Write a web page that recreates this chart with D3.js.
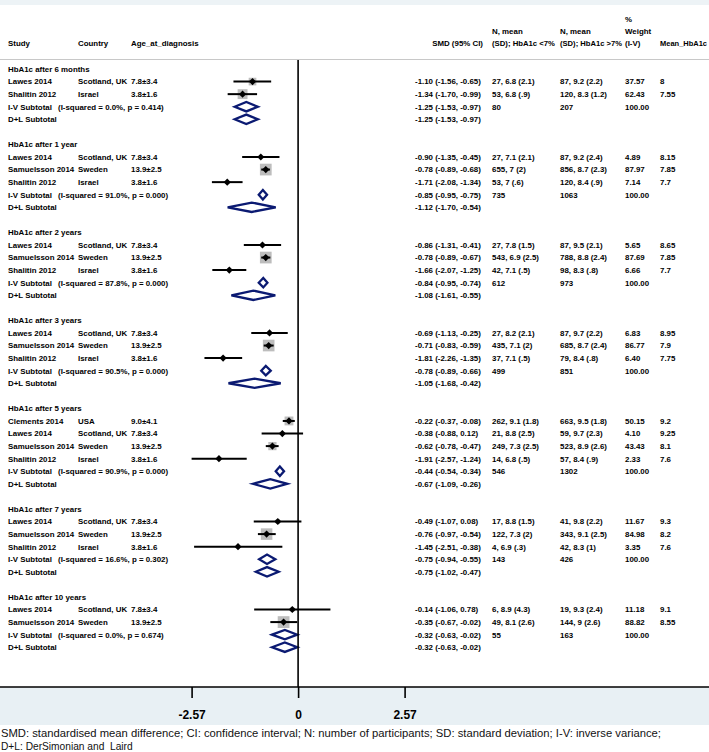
<!DOCTYPE html>
<html><head><meta charset="utf-8">
<script src="https://cdn.jsdelivr.net/npm/d3@7"></script>
<style>body{margin:0;background:#fff}svg{display:block}text{font-family:"Liberation Sans",Arial,sans-serif}</style>
</head><body>
<svg id="c" width="709" height="752"></svg>
<script>
const groupNames = ["HbA1c after 6 months","HbA1c after 1 year","HbA1c after 2 years","HbA1c after 3 years","HbA1c after 5 years","HbA1c after 7 years","HbA1c after 10 years"];
const studyGroup = [0,0, 1,1,1, 2,2,2, 3,3,3, 4,4,4,4, 5,5,5, 6,6];
const studyNames = ["Lawes 2014","Shalitin 2012","Lawes 2014","Samuelsson 2014","Shalitin 2012","Lawes 2014","Samuelsson 2014","Shalitin 2012","Lawes 2014","Samuelsson 2014","Shalitin 2012","Clements 2014","Lawes 2014","Samuelsson 2014","Shalitin 2012","Lawes 2014","Samuelsson 2014","Shalitin 2012","Lawes 2014","Samuelsson 2014"];
const countries = ["Scotland, UK","Israel","Scotland, UK","Sweden","Israel","Scotland, UK","Sweden","Israel","Scotland, UK","Sweden","Israel","USA","Scotland, UK","Sweden","Israel","Scotland, UK","Sweden","Israel","Scotland, UK","Sweden"];
const ages = ["7.8±3.4","3.8±1.6","7.8±3.4","13.9±2.5","3.8±1.6","7.8±3.4","13.9±2.5","3.8±1.6","7.8±3.4","13.9±2.5","3.8±1.6","9.0±4.1","7.8±3.4","13.9±2.5","3.8±1.6","7.8±3.4","13.9±2.5","3.8±1.6","7.8±3.4","13.9±2.5"];
const smd = [-1.10,-1.34,-0.90,-0.78,-1.71,-0.86,-0.78,-1.66,-0.69,-0.71,-1.81,-0.22,-0.38,-0.62,-1.91,-0.49,-0.76,-1.45,-0.14,-0.35];
const ciLow = [-1.56,-1.70,-1.35,-0.89,-2.08,-1.31,-0.89,-2.07,-1.13,-0.83,-2.26,-0.37,-0.88,-0.78,-2.57,-1.07,-0.97,-2.51,-1.06,-0.67];
const ciHigh = [-0.65,-0.99,-0.45,-0.68,-1.34,-0.41,-0.67,-1.25,-0.25,-0.59,-1.35,-0.08,0.12,-0.47,-1.24,0.08,-0.54,-0.38,0.78,-0.02];
const nLow = ["27, 6.8 (2.1)","53, 6.8 (.9)","27, 7.1 (2.1)","655, 7 (2)","53, 7 (.6)","27, 7.8 (1.5)","543, 6.9 (2.5)","42, 7.1 (.5)","27, 8.2 (2.1)","435, 7.1 (2)","37, 7.1 (.5)","262, 9.1 (1.8)","21, 8.8 (2.5)","249, 7.3 (2.5)","14, 6.8 (.5)","17, 8.8 (1.5)","122, 7.3 (2)","4, 6.9 (.3)","6, 8.9 (4.3)","49, 8.1 (2.6)"];
const nHigh = ["87, 9.2 (2.2)","120, 8.3 (1.2)","87, 9.2 (2.4)","856, 8.7 (2.3)","120, 8.4 (.9)","87, 9.5 (2.1)","788, 8.8 (2.4)","98, 8.3 (.8)","87, 9.7 (2.2)","685, 8.7 (2.4)","79, 8.4 (.8)","663, 9.5 (1.8)","59, 9.7 (2.3)","523, 8.9 (2.6)","57, 8.4 (.9)","41, 9.8 (2.2)","343, 9.1 (2.5)","42, 8.3 (1)","19, 9.3 (2.4)","144, 9 (2.6)"];
const weights = [37.57,62.43,4.89,87.97,7.14,5.65,87.69,6.66,6.83,86.77,6.40,50.15,4.10,43.43,2.33,11.67,84.98,3.35,11.18,88.82];
const meanHbA1c = ["8","7.55","8.15","7.85","7.7","8.65","7.85","7.7","8.95","7.9","7.75","9.2","9.25","8.1","7.6","9.3","8.2","7.6","9.1","8.55"];
const ivEst = [-1.25,-0.85,-0.84,-0.78,-0.44,-0.75,-0.32];
const ivLow = [-1.53,-0.95,-0.95,-0.89,-0.54,-0.94,-0.63];
const ivHigh = [-0.97,-0.75,-0.74,-0.66,-0.34,-0.55,-0.02];
const iSquared = ["0.0%","91.0%","87.8%","90.5%","90.9%","16.6%","0.0%"];
const pValues = ["0.414","0.000","0.000","0.000","0.000","0.302","0.674"];
const nLowTotal = ["80","735","612","499","546","143","55"];
const nHighTotal = ["207","1063","973","851","1302","426","163"];
const dlEst = [-1.25,-1.12,-1.08,-1.05,-0.67,-0.75,-0.32];
const dlLow = [-1.53,-1.70,-1.61,-1.68,-1.09,-1.02,-0.63];
const dlHigh = [-0.97,-0.54,-0.55,-0.42,-0.26,-0.47,-0.02];
const tickValues = [-2.57, 0, 2.57];
const tickLabels = ["-2.57","0","2.57"];
const headerLeft = ["Study","Country","Age_at_diagnosis"];

const W = 709, H = 752;
const svg = d3.select("#c");
const x = d3.scaleLinear().domain([-2.57, 2.57]).range([191.6, 404.6]);
const row0 = 69, step = 12.57;
const y = i => row0 + i * step;
const fs = 7.9;
const navy = "#0b1a72";
const f2 = d3.format(".2f");
const fmtCI = (e,l,h) => `${f2(e)} (${f2(l)}, ${f2(h)})`.replace(/−/g,"-");

// background bands
svg.append("rect").attr("x",0).attr("y",0).attr("width",W).attr("height",5).attr("fill","#edf3f6");
svg.append("rect").attr("x",0).attr("y",687).attr("width",W).attr("height",38).attr("fill","#e8f0f4");
svg.append("line").attr("x1",0).attr("x2",W).attr("y1",59.5).attr("y2",59.5).attr("stroke","#c8c8c8").attr("stroke-width",1);

// build rows
const rows = [];
let r = 0;
groupNames.forEach((g, gi) => {
  rows.push({type:"head", gi, r: r++});
  studyGroup.forEach((sg, si) => { if (sg === gi) rows.push({type:"study", si, r: r++}); });
  rows.push({type:"iv", gi, r: r++});
  rows.push({type:"dl", gi, r: r++});
  r++;
});

const txt = (xx, yy, s, anchor) => svg.append("text").attr("x",xx).attr("y",yy+2.9).attr("font-size",fs).attr("font-weight","bold").attr("fill","#000").attr("text-anchor",anchor||"start").text(s);

// headers
txt(8, 43, headerLeft[0]); txt(78, 43, headerLeft[1]); txt(131, 43, headerLeft[2]);
txt(483, 43, "SMD (95% CI)", "end");
txt(492, 31, "N, mean"); txt(492, 43, "(SD); HbA1c <7%").attr("textLength",63).attr("lengthAdjust","spacingAndGlyphs");
txt(560, 31, "N, mean"); txt(560, 43, "(SD); HbA1c >7%").attr("textLength",62).attr("lengthAdjust","spacingAndGlyphs");
txt(625, 19, "%"); txt(625, 31, "Weight"); txt(625, 43, "(I-V)");
txt(660, 43, "Mean_HbA1c").attr("textLength",47).attr("lengthAdjust","spacingAndGlyphs");

const colSMD = 415, colN1 = 492, colN2 = 560, colW = 625, colM = 660;
const plot = svg.append("g");

rows.forEach(row => {
  const yy = y(row.r);
  if (row.type === "head") {
    txt(8, yy, groupNames[row.gi]);
  } else if (row.type === "study") {
    const i = row.si;
    txt(8, yy, studyNames[i]); txt(78, yy, countries[i]); txt(131, yy, ages[i]);
    txt(colSMD, yy, fmtCI(smd[i], ciLow[i], ciHigh[i]));
    txt(colN1, yy, nLow[i]); txt(colN2, yy, nHigh[i]);
    txt(colW, yy, f2(weights[i])); txt(colM, yy, meanHbA1c[i]);
    const side = 1.25 * Math.sqrt(weights[i]);
    plot.append("rect").attr("x", x(smd[i]) - side/2).attr("y", yy - side/2).attr("width", side).attr("height", side).attr("fill","#bdbdbd");
    plot.append("line").attr("x1", x(ciLow[i])).attr("x2", x(ciHigh[i])).attr("y1", yy).attr("y2", yy).attr("stroke","#000").attr("stroke-width",2);
    const cx = x(smd[i]), d = 3.6;
    plot.append("path").attr("d", `M${cx-d},${yy}L${cx},${yy-d}L${cx+d},${yy}L${cx},${yy+d}Z`).attr("fill","#000");
  } else {
    const gi = row.gi;
    const isIV = row.type === "iv";
    if (isIV) {
      txt(8, yy, "I-V Subtotal"); txt(58, yy, `(I-squared = ${iSquared[gi]}, p = ${pValues[gi]})`);
      txt(colSMD, yy, fmtCI(ivEst[gi], ivLow[gi], ivHigh[gi]));
      txt(colN1, yy, nLowTotal[gi]); txt(colN2, yy, nHighTotal[gi]); txt(colW, yy, "100.00");
    } else {
      txt(8, yy, "D+L Subtotal");
      txt(colSMD, yy, fmtCI(dlEst[gi], dlLow[gi], dlHigh[gi]));
    }
    const e = isIV ? ivEst[gi] : dlEst[gi], l = isIV ? ivLow[gi] : dlLow[gi], h = isIV ? ivHigh[gi] : dlHigh[gi];
    const hh = 4.7;
    plot.append("path").attr("d", `M${x(l)},${yy}L${x(e)},${yy-hh}L${x(h)},${yy}L${x(e)},${yy+hh}Z`)
      .attr("fill","#fff").attr("stroke", navy).attr("stroke-width", 2.3).attr("stroke-linejoin","miter");
  }
});

// zero line
svg.append("line").attr("x1", x(0)).attr("x2", x(0)).attr("y1", 60).attr("y2", 687).attr("stroke","#000").attr("stroke-width",1.6);

// axis
const axisG = svg.append("g").attr("transform","translate(0,687)");
const axis = d3.axisBottom(x).tickValues(tickValues).tickFormat((d,i) => tickLabels[i]).tickSize(11).tickPadding(12);
axisG.call(axis);
axisG.select(".domain").remove();
axisG.append("line").attr("x1",0).attr("x2",W).attr("y1",0).attr("y2",0).attr("stroke","#000").attr("stroke-width",1.6);
axisG.selectAll(".tick line").attr("stroke","#000").attr("stroke-width",1.6);
axisG.selectAll(".tick text").attr("font-size",12).attr("font-weight","bold").attr("fill","#000").attr("font-family","Liberation Sans, Arial, sans-serif");

// footnote
svg.append("text").attr("x",1).attr("y",737).attr("font-size",10.2).attr("fill","#111")
  .attr("textLength",660).attr("lengthAdjust","spacingAndGlyphs")
  .text("SMD: standardised mean difference; CI: confidence interval; N: number of participants; SD: standard deviation; I-V: inverse variance;");
svg.append("text").attr("x",1).attr("y",750).attr("font-size",10.2).attr("fill","#111")
  .text("D+L: DerSimonian and  Laird").attr("xml:space","preserve").style("white-space","pre");
</script>
</body></html>
